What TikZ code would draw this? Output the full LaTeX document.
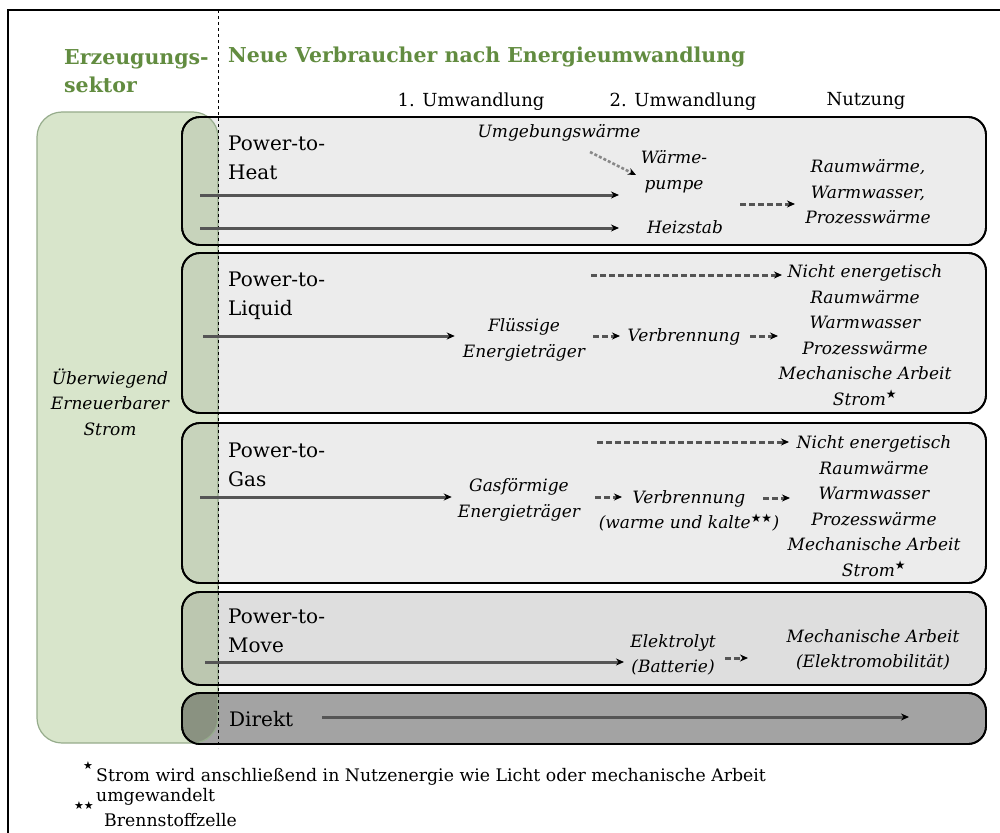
\documentclass[tikz,border=0pt]{standalone}
\usepackage{fontspec}
\setmainfont{DejaVu Serif}
\newfontfamily\symfont{DejaVu Sans}
\usetikzlibrary{arrows.meta}
\newcommand{\mystar}{\textsuperscript{\symfont\upshape ★}}
\newcommand{\mystars}{\textsuperscript{\symfont\upshape ★★}}
\definecolor{hdgreen}{RGB}{98,140,64}
\definecolor{greenfill}{RGB}{216,229,203}
\definecolor{greenline}{RGB}{150,172,140}
\definecolor{boxfill}{RGB}{236,236,236}
\definecolor{movefill}{RGB}{222,222,222}
\definecolor{direktfill}{RGB}{163,163,163}
\definecolor{arrgray}{RGB}{85,85,85}
\tikzset{
  lane/.style={draw=black, line width=1.8pt, rounded corners=18pt},
  solidarr/.style={draw=arrgray, line width=3pt, -{Stealth[length=8pt,width=7pt,color=black]}},
  dasharr/.style={draw=arrgray, line width=3pt, dash pattern=on 6pt off 3pt, -{Stealth[length=8pt,width=7pt,color=black]}},
  lbl/.style={font=\fontsize{20}{29}\selectfont, align=left, anchor=west, inner sep=0pt},
  itl/.style={font=\fontsize{17}{25.5}\selectfont\itshape, align=center, inner sep=0pt},
  hd/.style={font=\fontsize{18}{22}\selectfont, inner sep=0pt},
  grn/.style={font=\fontsize{20.5}{28}\selectfont\bfseries, text=hdgreen, align=left, anchor=west, inner sep=0pt},
  fn/.style={font=\fontsize{17.3}{23}\selectfont, anchor=west, inner sep=0pt},
}
\begin{document}
\begin{tikzpicture}[x=1pt,y=-1pt]
\useasboundingbox (0,0) rectangle (1000,832);
% frame
\draw[line width=2pt] (8,10) rectangle (1012,845);
% lanes
\draw[lane, fill=boxfill] (182,117) rectangle (986,245);
\draw[lane, fill=boxfill] (182,253) rectangle (986,413);
\draw[lane, fill=boxfill] (182,423) rectangle (986,583);
\draw[lane, fill=movefill] (182,592) rectangle (986,685);
\draw[lane, fill=direktfill] (182,693) rectangle (986,744);
% green sector box
\begin{scope}[blend mode=multiply]
\fill[greenfill, rounded corners=25pt] (37,112) rectangle (218,743);
\end{scope}
\draw[greenline, line width=1.2pt, rounded corners=25pt] (37,112) rectangle (218,743);
% redraw lane borders
\draw[lane] (182,117) rectangle (986,245);
\draw[lane] (182,253) rectangle (986,413);
\draw[lane] (182,423) rectangle (986,583);
\draw[lane] (182,592) rectangle (986,685);
\draw[lane] (182,693) rectangle (986,744);
% dashed divider
\coordinate (dtop) at (218,10);
\coordinate (dbot) at (218,748);
\draw[dashed, line width=1pt] (dtop) -- (dbot);
% headers
\node[grn] (erz) at (64,71) {Erzeugungs-\\sektor};
\node[grn] (neu) at (228,57) {Neue Verbraucher nach Energieumwandlung};
\node[hd] (u1) at (471,102) {1. Umwandlung};
\node[hd] (u2) at (683,102) {2. Umwandlung};
\node[hd] (nutz) at (866,101) {Nutzung};
\node[itl] (ee) at (110,402) {Überwiegend\\Erneuerbarer\\Strom};
% Power-to-Heat
\node[lbl] (pth) at (228,158) {Power-to-\\Heat};
\node[itl] (umg) at (559,133) {Umgebungswärme};
\node[itl] (wp) at (674,172) {Wärme-\\pumpe};
\node[itl] (hz) at (685,227) {Heizstab};
\node[itl] (rw) at (868,192) {Raumwärme,\\Warmwasser,\\Prozesswärme};
\coordinate (h1s) at (200,195);
\coordinate (h1e) at (619,195);
\coordinate (h2s) at (200,228);
\coordinate (h2e) at (619,228);
\coordinate (ums) at (590,152);
\coordinate (ume) at (636,175);
\coordinate (hds) at (740,204);
\coordinate (hde) at (795,204);
\draw[solidarr] (h1s) -- (h1e);
\draw[solidarr] (h2s) -- (h2e);
\draw[dasharr, line width=2.5pt, dash pattern=on 3pt off 2pt, draw=arrgray!70] (ums) -- (ume);
\draw[dasharr] (hds) -- (hde);
% Power-to-Liquid
\node[lbl] (ptl) at (228,296) {Power-to-\\Liquid};
\node[itl] (fl) at (524,340) {Flüssige\\Energieträger};
\node[itl] (vb1) at (684,337) {Verbrennung};
\node[itl] (nl) at (865,335) {Nicht energetisch\\Raumwärme\\Warmwasser\\Prozesswärme\\Mechanische Arbeit\\Strom\mystar};
\coordinate (l1s) at (203,336);
\draw[solidarr] (l1s) -- ([xshift=-8pt]fl.west |- l1s);
\coordinate (l2s) at (591,275);
\coordinate (l2e) at (782,275);
\draw[dasharr] (l2s) -- (l2e);
\coordinate (l3s) at (593,336);
\coordinate (l3e) at (620,336);
\coordinate (l4s) at (750,336);
\coordinate (l4e) at (778,336);
\draw[dasharr] (l3s) -- (l3e);
\draw[dasharr] (l4s) -- (l4e);
% Power-to-Gas
\node[lbl] (ptg) at (228,465) {Power-to-\\Gas};
\node[itl] (gf) at (519,500) {Gasförmige\\Energieträger};
\node[itl] (vb2) at (689,511) {Verbrennung\\(warme und kalte\mystars)};
\node[itl] (ng) at (874,506) {Nicht energetisch\\Raumwärme\\Warmwasser\\Prozesswärme\\Mechanische Arbeit\\Strom\mystar};
\coordinate (g1s) at (200,497);
\draw[solidarr] (g1s) -- ([xshift=-6pt]gf.west |- g1s);
\coordinate (g2s) at (597,442);
\coordinate (g2e) at (789,442);
\draw[dasharr] (g2s) -- (g2e);
\coordinate (g3s) at (595,497);
\coordinate (g3e) at (622,497);
\coordinate (g4s) at (763,498);
\coordinate (g4e) at (790,498);
\draw[dasharr] (g3s) -- (g3e);
\draw[dasharr] (g4s) -- (g4e);
% Power-to-Move
\node[lbl] (ptm) at (228,631) {Power-to-\\Move};
\node[itl] (el) at (673,655) {Elektrolyt\\(Batterie)};
\node[itl] (ma) at (873,650) {Mechanische Arbeit\\(Elektromobilität)};
\coordinate (m1s) at (205,662);
\coordinate (m1e) at (624,662);
\draw[solidarr] (m1s) -- (m1e);
\coordinate (m2s) at (725,658);
\coordinate (m2e) at (748,658);
\draw[dasharr] (m2s) -- (m2e);
% Direkt
\node[lbl] (dk) at (229,719) {Direkt};
\coordinate (d1s) at (322,717);
\coordinate (d1e) at (909,717);
\draw[solidarr] (d1s) -- (d1e);
% footnotes
\node[inner sep=0pt, font=\symfont\fontsize{11}{11}\selectfont] (st1) at (88,766) {★};
\node[fn] (f1) at (96,777) {Strom wird anschließend in Nutzenergie wie Licht oder mechanische Arbeit};
\node[inner sep=0pt, font=\symfont\fontsize{11}{11}\selectfont] (st2) at (84,806) {★★};
\node[fn] (f2) at (96,797) {umgewandelt};
\node[fn] (f3) at (104,820) {Brennstoffzelle};
\end{tikzpicture}
\end{document}
